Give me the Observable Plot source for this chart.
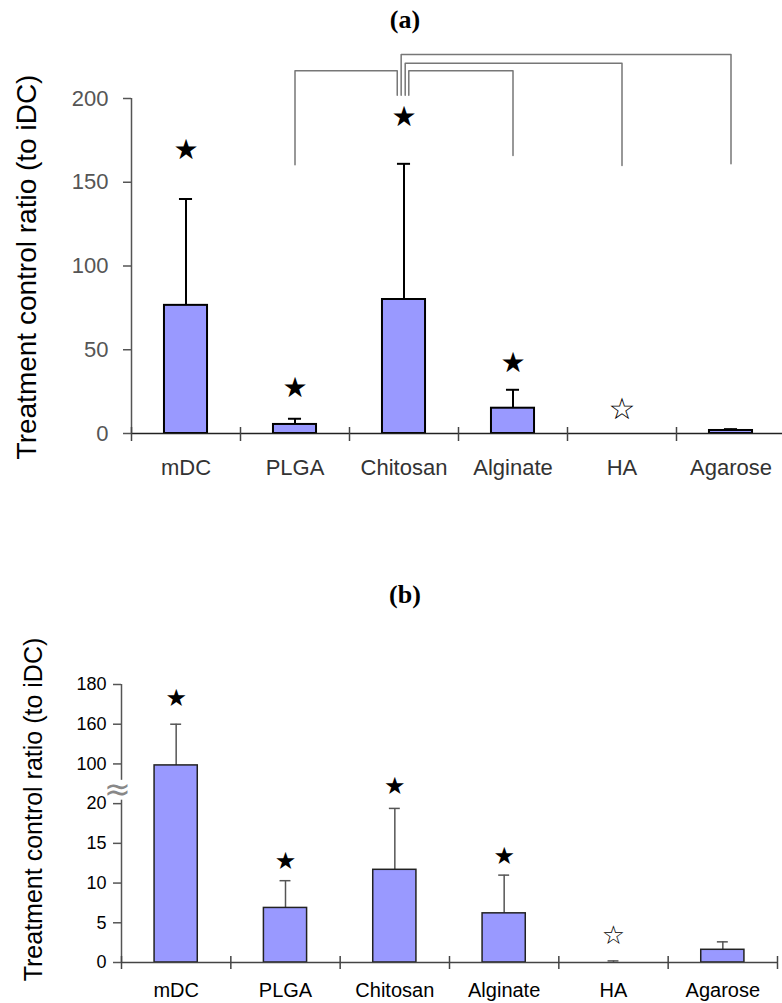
<!DOCTYPE html>
<html><head><meta charset="utf-8">
<script src="https://cdn.jsdelivr.net/npm/d3@7"></script>
<script src="https://cdn.jsdelivr.net/npm/@observablehq/plot@0.6"></script>
<style>
body{margin:0;background:#fff;}
#page{position:relative;width:782px;height:1003px;overflow:hidden;background:#fff;}
.title{position:absolute;left:0;width:810px;text-align:center;font:bold 26px "Liberation Serif","Times New Roman",serif;line-height:26px;color:#000;}
#pa{position:absolute;left:0;top:45px;}
#pb{position:absolute;left:0;top:620px;}
</style></head><body><div id="page">
<div class="title" style="top:7px">(a)</div>
<div id="pa"></div>
<div class="title" style="top:582px">(b)</div>
<div id="pb"></div>
</div>
<script>
const categories = ["mDC", "PLGA", "Chitosan", "Alginate", "HA", "Agarose"];
const yLabel = "Treatment control ratio (to iDC)";

// Panel (a)
const meanA = [76.5, 5.4, 80, 15.1, 0, 1.8];
const errTopA = [140, 8.8, 161, 26.1, null, 2.6];
const starA = [169, 27.3, 189, 42.2, 14.3, null];
const starOpenA = [false, false, false, false, true, false];
const yTicksA = [0, 50, 100, 150, 200];

// significance brackets in (a), from Chitosan to each target
const bracketFrom = "Chitosan";
const bracketTo = ["PLGA", "Alginate", "HA", "Agarose"];
const bracketLevel = [216.5, 216.5, 221, 226.3];
const bracketFootTo = [160.5, 166, 160, 161];
const bracketFootFrom = 202;
const bracketLegShift = [-0.062, 0.044, 0.011, -0.026];

// Panel (b)
const meanB = [97, 6.87, 11.67, 6.19, 0, 1.6];
const errTopB = [160, 10.3, 19.4, 11.0, 0.2, 2.6];
const starB = [173, 12.8, 55, 13.4, 3.4, null];
const starOpenB = [false, false, false, false, true, false];
const yTicksB = [0, 5, 10, 15, 20, 100, 160, 180];
const axisBreakB = [27, 67];

const idx = categories.map((d, i) => i);
const bounds = d3.range(categories.length + 1);
const sans = "'Liberation Sans', Arial, sans-serif";

// ---------- Panel (a)
const ci = categories.indexOf(bracketFrom) + 0.5;
const bracketRows = bracketTo.flatMap((t, k) => {
  const ti = categories.indexOf(t) + 0.5, si = ci + bracketLegShift[k];
  return [
    {k, x: si, y: bracketFootFrom}, {k, x: si, y: bracketLevel[k]},
    {k, x: ti, y: bracketLevel[k]}, {k, x: ti, y: bracketFootTo[k]}
  ];
});
const bwA = 0.395, capA = 0.06;
const barsA = idx.filter(i => meanA[i] > 0);
const errA = idx.filter(i => errTopA[i] != null);
const starsA = idx.filter(i => starA[i] != null);

const plotA = Plot.plot({
  width: 782, height: 440,
  marginLeft: 131, marginRight: -3, marginTop: 53, marginBottom: 52,
  style: {fontFamily: sans, background: "transparent", overflow: "visible"},
  x: {domain: [0, categories.length]},
  y: {domain: [0, 200]},
  marks: [
    Plot.rectY(barsA, {x1: i => i + 0.5 - bwA / 2, x2: i => i + 0.5 + bwA / 2, y1: 0, y2: i => meanA[i], fill: "#9999ff", stroke: "#000", strokeWidth: 2}),
    Plot.ruleX(errA, {x: i => i + 0.5, y1: i => meanA[i], y2: i => errTopA[i], stroke: "#000", strokeWidth: 2}),
    Plot.ruleY(errA, {y: i => errTopA[i], x1: i => i + 0.5 - capA, x2: i => i + 0.5 + capA, stroke: "#000", strokeWidth: 2}),
    Plot.ruleY([0], {stroke: "#222", strokeWidth: 1.5}),
    Plot.ruleX([0], {y1: 0, y2: 200, stroke: "#555", strokeWidth: 1.5}),
    Plot.axisX(bounds, {tickSize: 14, dy: -6, tickFormat: () => "", label: null, stroke: "#444", strokeWidth: 1.5}),
    Plot.axisY(yTicksA, {tickSize: 8, tickPadding: 15, fontSize: 22, label: null, color: "#555", strokeWidth: 1.5}),
    Plot.text(categories, {x: (d, i) => i + 0.5, y: 0, dy: 34, fontSize: 22, fill: "#333"}),
    Plot.text([yLabel], {frameAnchor: "left", textAnchor: "middle", rotate: -90, dx: -104, dy: 1, fontSize: 28, fill: "#000"}),
    Plot.text(starsA, {x: i => i + 0.5, y: i => starA[i], text: i => starOpenA[i] ? "☆" : "★", fontSize: i => starOpenA[i] ? 30 : 28, fontFamily: "DejaVu Sans", fill: "#000"}),
    Plot.line(bracketRows, {x: "x", y: "y", z: "k", stroke: "#777", strokeWidth: 1.5})
  ]
});
document.getElementById("pa").appendChild(plotA);

// ---------- Panel (b) — broken axis via piecewise mapping of tick values to even steps
const piece = d3.scaleLinear().domain(yTicksB).range(yTicksB.map((d, i) => i));
const bwB = 0.395, capB = 0.05;
const barsB = idx.filter(i => meanB[i] > 0);
const errB = idx.filter(i => errTopB[i] != null);
const starsB = idx.filter(i => starB[i] != null);

const plotB = Plot.plot({
  width: 782, height: 383,
  marginLeft: 121, marginRight: 5, marginTop: 64, marginBottom: 41,
  style: {fontFamily: sans, background: "transparent", overflow: "visible"},
  x: {domain: [0, categories.length]},
  y: {domain: [0, yTicksB.length - 1]},
  marks: [
    Plot.ruleX(errB, {x: i => i + 0.5, y1: i => piece(meanB[i]), y2: i => piece(errTopB[i]), stroke: "#555", strokeWidth: 1.5}),
    Plot.ruleY(errB, {y: i => piece(errTopB[i]), x1: i => i + 0.5 - capB, x2: i => i + 0.5 + capB, stroke: "#555", strokeWidth: 1.5}),
    Plot.rectY(barsB, {x1: i => i + 0.5 - bwB / 2, x2: i => i + 0.5 + bwB / 2, y1: 0, y2: i => piece(meanB[i]), fill: "#9999ff", stroke: "#222", strokeWidth: 1.5}),
    Plot.ruleY([0], {stroke: "#444", strokeWidth: 1.5}),
    Plot.ruleX([[0, axisBreakB[0]], [axisBreakB[1], yTicksB[yTicksB.length - 1]]], {x: 0, y1: d => piece(d[0]), y2: d => piece(d[1]), stroke: "#555", strokeWidth: 1.5}),
    Plot.axisX(bounds, {tickSize: 13, dy: -6, tickFormat: () => "", label: null, stroke: "#444", strokeWidth: 1.5}),
    Plot.axisY(yTicksB.map(piece), {tickSize: 8, tickPadding: 7, fontSize: 18, label: null, stroke: "#555", fill: "#000", strokeWidth: 1.5, tickFormat: t => yTicksB[Math.round(t)]}),
    Plot.text(["≈"], {x: 0, y: piece((axisBreakB[0] + axisBreakB[1]) / 2), dx: -4, fontSize: 32, fontFamily: "DejaVu Sans", fill: "#888"}),
    Plot.text(categories, {x: (d, i) => i + 0.5, y: 0, dy: 28, fontSize: 20, fill: "#000"}),
    Plot.text([yLabel], {frameAnchor: "left", textAnchor: "middle", rotate: -90, dx: -88, dy: -14, fontSize: 25, fill: "#000"}),
    Plot.text(starsB, {x: i => i + 0.5, y: i => piece(starB[i]), text: i => starOpenB[i] ? "☆" : "★", fontSize: i => starOpenB[i] ? 26 : 24, fontFamily: "DejaVu Sans", fill: "#000"})
  ]
});
document.getElementById("pb").appendChild(plotB);
</script>
</body></html>
